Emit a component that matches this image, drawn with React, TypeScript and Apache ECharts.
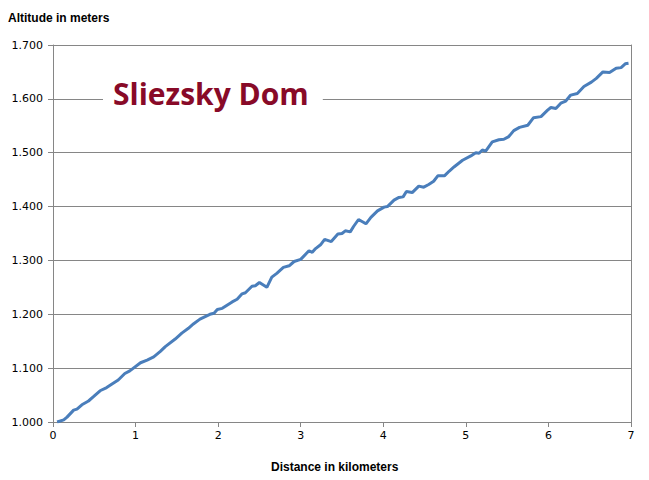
import React, { useEffect, useRef } from "react";
import * as echarts from "echarts";

const distanceKm = [
  0.05, 0.13, 0.17, 0.25, 0.29, 0.35, 0.43, 0.49, 0.57, 0.65, 0.71, 0.79, 0.87, 0.93,
  1.06, 1.14, 1.22, 1.3, 1.36, 1.48, 1.56, 1.64, 1.7, 1.78, 1.9, 1.95, 1.99, 2.05,
  2.17, 2.23, 2.29, 2.33, 2.41, 2.45, 2.5, 2.59, 2.65, 2.71, 2.79, 2.86, 2.92, 3.0,
  3.1, 3.14, 3.18, 3.24, 3.29, 3.37, 3.45, 3.5, 3.54, 3.6, 3.64, 3.7, 3.79, 3.85,
  3.93, 4.01, 4.05, 4.13, 4.19, 4.24, 4.28, 4.35, 4.43, 4.49, 4.55, 4.61, 4.66, 4.74,
  4.8, 4.86, 4.96, 5.06, 5.12, 5.16, 5.2, 5.24, 5.32, 5.4, 5.46, 5.52, 5.58, 5.65,
  5.75, 5.82, 5.91, 5.99, 6.03, 6.09, 6.15, 6.21, 6.27, 6.35, 6.43, 6.52, 6.58, 6.66,
  6.74, 6.82, 6.88, 6.93, 6.97,
];

const altitudeM = [
  1000, 1004, 1009, 1022, 1024, 1032, 1039, 1047, 1058, 1064, 1070, 1078, 1090, 1095,
  1110, 1115, 1121, 1131, 1140, 1154, 1165, 1174, 1182, 1191, 1200, 1202, 1209, 1211,
  1223, 1228, 1238, 1240, 1252, 1253, 1259, 1250, 1269, 1276, 1287, 1290, 1298, 1302,
  1318, 1315, 1322, 1329, 1339, 1335, 1349, 1350, 1355, 1353, 1363, 1376, 1368, 1380,
  1392, 1399, 1400, 1412, 1417, 1418, 1428, 1426, 1438, 1436, 1441, 1447, 1457, 1457,
  1466, 1474, 1486, 1494, 1500, 1499, 1505, 1503, 1520, 1524, 1525, 1530, 1541, 1547,
  1551, 1565, 1567, 1579, 1584, 1582, 1592, 1596, 1607, 1610, 1623, 1631, 1638, 1650,
  1649, 1657, 1658, 1665, 1666,
];

const chartTitle = "Sliezsky Dom";
const yAxisTitle = "Altitude in meters";
const xAxisTitle = "Distance in kilometers";

const fmtThousands = (v: number) => {
  const s = String(Math.round(v));
  return s.length > 3 ? s.slice(0, s.length - 3) + "." + s.slice(-3) : s;
};

export default function App() {
  const ref = useRef<HTMLDivElement>(null);
  useEffect(() => {
    if (!ref.current) return;
    const chart = echarts.init(ref.current, undefined, { renderer: "svg" });
    const grey = "#868686";
    chart.setOption({
      animation: false,
      backgroundColor: "#ffffff",
      grid: { left: 53, right: 18, top: 45, bottom: 58, show: false },
      xAxis: {
        type: "value",
        min: 0,
        max: 7,
        interval: 1,
        axisLine: { show: true, onZero: false, lineStyle: { color: grey, width: 1 } },
        axisTick: { show: true, length: 5, lineStyle: { color: grey } },
        axisLabel: { color: "#000", fontSize: 11, fontFamily: "DejaVu Sans", margin: 8 },
        splitLine: { show: false },
      },
      yAxis: [
        {
          type: "value",
          min: 1000,
          max: 1700,
          interval: 100,
          axisLine: { show: true, lineStyle: { color: grey, width: 1 } },
          axisTick: { show: true, length: 5, lineStyle: { color: grey } },
          axisLabel: {
            color: "#000",
            fontSize: 11,
            fontFamily: "DejaVu Sans",
            margin: 10,
            formatter: fmtThousands,
          },
          splitLine: { show: true, lineStyle: { color: grey, width: 1 } },
        },
        {
          type: "value",
          position: "right",
          min: 1000,
          max: 1700,
          interval: 100,
          axisLine: { show: true, lineStyle: { color: grey, width: 1 } },
          axisTick: { show: false },
          axisLabel: { show: false },
          splitLine: { show: false },
        },
      ],
      title: {
        text: chartTitle,
        left: 103,
        top: 75,
        padding: [3, 14, 3, 10],
        backgroundColor: "#ffffff",
        textStyle: {
          color: "#880A28",
          fontSize: 30,
          fontWeight: "bold",
          fontFamily: "Open Sans",
        },
      },
      graphic: [
        {
          type: "text",
          left: 8,
          top: 12,
          style: {
            text: yAxisTitle,
            fill: "#000",
            font: "bold 12px 'Liberation Sans'",
          },
        },
        {
          type: "text",
          left: 271,
          top: 461,
          style: {
            text: xAxisTitle,
            fill: "#000",
            font: "bold 12px 'Liberation Sans'",
          },
        },
      ],
      series: [
        {
          type: "line",
          data: distanceKm.map((d, i) => [d, altitudeM[i]]),
          showSymbol: false,
          symbol: "none",
          lineStyle: { color: "#4A7EBB", width: 3 },
          z: 5,
        },
      ],
    });
    return () => chart.dispose();
  }, []);
  return <div ref={ref} style={{ width: 649, height: 480, position: "absolute", left: 0, top: 0 }} />;
}
